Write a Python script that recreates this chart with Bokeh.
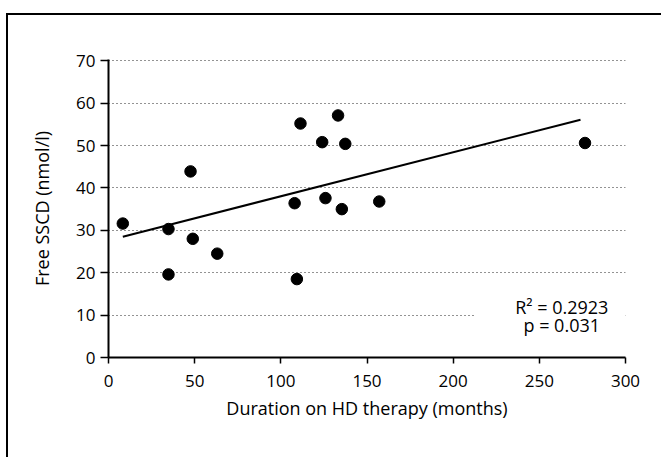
from bokeh.plotting import figure
from bokeh.models import Range1d, Label, BoxAnnotation, FixedTicker
from bokeh.embed import file_html
from bokeh.resources import INLINE

# Data
duration_months = [8.3, 34.8, 34.8, 47.6, 48.9, 63.1, 108.0, 109.3, 111.4,
                   124.0, 125.9, 133.2, 137.4, 135.4, 157.1, 276.5]
free_sscd = [31.6, 30.3, 19.6, 43.9, 28.0, 24.5, 36.4, 18.5, 55.2,
             50.8, 37.6, 57.1, 50.4, 35.0, 36.8, 50.6]
fit_x = [8.3, 273.9]
fit_y = [28.5, 56.1]
x_ticks = [0, 50, 100, 150, 200, 250, 300]
y_ticks = [0, 10, 20, 30, 40, 50, 60, 70]
r2_text = "R\u00b2 = 0.2923"
p_text = "p = 0.031"

FONT = "Open Sans"

p = figure(width=655, height=444, output_backend="svg", toolbar_location=None,
           x_range=Range1d(0, 300), y_range=Range1d(0, 70.3),
           min_border_left=100, min_border_right=38,
           min_border_top=44, min_border_bottom=102,
           margin=(13, 0, 0, 6),
           styles={"border-top": "2px solid black", "border-left": "2px solid black"})
p.outline_line_color = None
p.background_fill_color = "white"
p.border_fill_color = "white"

# grid
p.xgrid.grid_line_color = None
p.ygrid.ticker = FixedTicker(ticks=y_ticks[1:])
p.ygrid.grid_line_color = "black"
p.ygrid.grid_line_dash = "1 3"
p.ygrid.grid_line_width = 1
p.ygrid.grid_line_alpha = 0.85

# axes
for ax in (p.xaxis[0], p.yaxis[0]):
    ax.axis_line_width = 2
    ax.axis_line_color = "black"
    ax.major_tick_line_color = "black"
    ax.major_tick_line_width = 1.5
    ax.minor_tick_line_color = None
    ax.major_tick_in = 0
    ax.major_label_text_font = FONT
    ax.major_label_text_font_size = "17px"
    ax.major_label_text_color = "black"
    ax.axis_label_text_font = FONT
    ax.axis_label_text_font_size = "18px"
    ax.axis_label_text_font_style = "normal"
    ax.axis_label_text_color = "black"

p.xaxis.ticker = FixedTicker(ticks=x_ticks)
p.yaxis.ticker = FixedTicker(ticks=y_ticks)
p.xaxis.major_tick_out = 6
p.yaxis.major_tick_out = 8
p.xaxis.major_label_standoff = 11
p.yaxis.major_label_standoff = 5
p.xaxis.axis_label = "Duration on HD therapy (months)"
p.yaxis.axis_label = "Free SSCD (nmol/l)"
p.xaxis.axis_label_standoff = 6
p.yaxis.axis_label_standoff = 19

# white patch behind the statistics text (grid line stops there)
p.add_layout(BoxAnnotation(left=213, right=300, bottom=5, top=18,
                           fill_color="white", fill_alpha=1, line_color=None))

p.line(fit_x, fit_y, line_color="black", line_width=2)
p.scatter(duration_months, free_sscd, size=11.5, fill_color="black", line_color="black")

p.add_layout(Label(x=263, y=12.0, text=r2_text, text_align="center", text_baseline="middle",
                   text_font=FONT, text_font_size="18px", text_color="black"))
p.add_layout(Label(x=263, y=7.6, text=p_text, text_align="center", text_baseline="middle",
                   text_font=FONT, text_font_size="18px", text_color="black"))

open("out.html", "w").write(file_html(p, INLINE))
